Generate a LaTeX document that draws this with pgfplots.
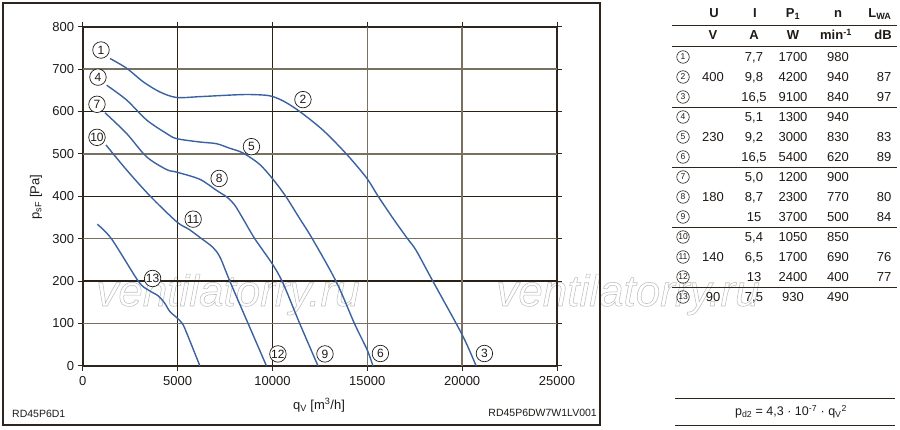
\documentclass[border=0pt]{standalone}
\usepackage{pgfplots}
\pgfplotsset{compat=1.18}
\usepackage{fontspec}
\setmainfont{Liberation Sans}
\definecolor{framec}{HTML}{2E261D}
\definecolor{griddark}{HTML}{2A2015}
\definecolor{gridgray}{HTML}{7A7062}
\definecolor{curvec}{HTML}{3A62A0}
\definecolor{textc}{HTML}{1E1A17}
\definecolor{wmark}{HTML}{BEBEBE}
\newcommand\outlinetext[1]{\special{pdf:literal direct 1 Tr 0.55 w}#1\special{pdf:literal direct 0 Tr}}
\tikzset{
  lab/.style={circle, draw=textc, line width=0.7pt, fill=white, minimum size=16.5pt, inner sep=0pt, text=textc, font=\fontsize{12}{12}\selectfont},
  tcirc/.style={circle, draw=textc, line width=0.6pt, minimum size=12.5pt, inner sep=0pt, text=textc, font=\fontsize{8.5}{8.5}\selectfont},
  tt/.style={anchor=base, text=textc, font=\fontsize{13}{15}\selectfont, inner sep=0pt},
  th/.style={anchor=base, text=textc, font=\fontsize{13}{15}\selectfont\bfseries, inner sep=0pt},
  wm/.style={anchor=base, text=wmark, font=\fontsize{44}{44}\selectfont\itshape, inner sep=0pt},
}
\newcommand\trow[7]{%
  \node[tcirc] at (683,#1) {#2};
  \node[tt] at (713,{#1+4.5}) {#3};
  \node[tt] at (754,{#1+4.5}) {#4};
  \node[tt] at (793,{#1+4.5}) {#5};
  \node[tt] at (838,{#1+4.5}) {#6};
  \node[tt] at (884,{#1+4.5}) {#7};
}
\begin{document}
\begin{tikzpicture}
\path[use as bounding box] (0,0) rectangle (900pt,429pt);
\begin{scope}[x=1pt, y=-1pt, yshift=429pt]
  % watermark (outlined)
  \node[wm] at (228,306) {\outlinetext{ventilatorry.ru}};
  \node[wm] at (628,306) {\outlinetext{ventilatorry.ru}};
\end{scope}

\begin{axis}[
  at={(82.7pt,63.2pt)}, anchor=south west,
  scale only axis, width=474.3pt, height=339.1pt,
  xmin=0, xmax=25000, ymin=0, ymax=800,
  clip=false,
  axis line style={draw=framec, line width=1.7pt},
  xtick={0,5000,10000,25000}, extra x ticks={15000,20000},
  ytick={0,200,400,600,800}, extra y ticks={100,300,500,700},
  xmajorgrids, ymajorgrids,
  major grid style={draw=griddark, line width=1.2pt},
  extra tick style={grid=major, major grid style={draw=gridgray, line width=1.4pt}},
  tick align=outside, major tick length=5pt,
  tick style={draw=framec, line width=1pt},
  scaled ticks=false,
  /pgf/number format/1000 sep={},
  /pgf/number format/assume math mode=true,
  ticklabel style={font=\fontsize{13}{15}\selectfont, text=textc},
  xticklabel style={yshift=-2.5pt},
]
% 1-2-3 (400 V)
\addplot[curvec, line width=1.4pt, smooth, tension=0.5] coordinates {
(1440,725) (2316,702) (3190,670) (4068,646) (4947,633) (6173,635) (7926,639) (8815,640) (9858,637) (10600,624) (11437,600) (12663,556) (13894,500) (14950,444) (15600,398) (16400,345) (17136,299) (17578,272) (18452,200) (19684,100) (20200,55) (20736,0)};
% 4-5-6 (230 V)
\addplot[curvec, line width=1.4pt, smooth, tension=0.5] coordinates {
(1263,662) (2316,627) (3368,580) (4421,548) (4947,536) (6173,528) (7052,524) (7700,514) (8453,502) (9331,475) (10031,440) (10700,400) (11400,350) (12100,300) (13368,198) (14331,99) (15000,37) (15296,0)};
% 7-8-9 (180 V)
\addplot[curvec, line width=1.4pt, smooth, tension=0.5] coordinates {
(1174,597) (2316,548) (3368,493) (4421,463) (4947,457) (6173,440) (7050,414) (7600,398) (8000,380) (8450,347) (9068,300) (10000,240) (10558,195) (11437,100) (12400,0)};
% 10-11-12 (140 V)
\addplot[curvec, line width=1.4pt, smooth, tension=0.5] coordinates {
(1226,521) (2316,462) (3542,401) (4947,340) (5600,322) (6173,303) (6873,279) (7250,255) (7752,200) (8716,100) (9684,0)};
% 13 (90 V)
\addplot[curvec, line width=1.4pt, smooth, tension=0.5] coordinates {
(770,334) (1526,299) (2926,200) (3452,179) (3979,165) (4332,147) (4595,128) (4947,114) (5263,99) (5558,69) (6173,0)};

\node[lab] at (axis cs:963,745) {1};
\node[lab] at (axis cs:805,681) {4};
\node[lab] at (axis cs:753,617) {7};
\node[lab] at (axis cs:753,539) {10};
\node[lab] at (axis cs:11610,628) {2};
\node[lab] at (axis cs:8894,517) {5};
\node[lab] at (axis cs:7190,442) {8};
\node[lab] at (axis cs:5821,346) {11};
\node[lab] at (axis cs:3684,206) {13};
\node[lab] at (axis cs:10290,28) {12};
\node[lab] at (axis cs:12770,28) {9};
\node[lab] at (axis cs:15690,29) {6};
\node[lab] at (axis cs:21173,29) {3};
\end{axis}

\begin{scope}[x=1pt, y=-1pt, yshift=429pt]
  % frame
  \draw[framec, line width=1.5pt] (3,3) rectangle (600,425);
  % axis titles
  \node[anchor=base, text=textc, font=\fontsize{13}{15}\selectfont, inner sep=0pt] at (319,409) {q\textsubscript{V} [m\textsuperscript{3}/h]};
  \node[rotate=90, text=textc, font=\fontsize{13}{15}\selectfont, inner sep=0pt] at (36,197) {p\textsubscript{sF} [Pa]};
  \node[anchor=base west, text=textc, font=\fontsize{10.5}{12}\selectfont, inner sep=0pt] at (12,417) {RD45P6D1};
  \node[anchor=base east, text=textc, font=\fontsize{10.5}{12}\selectfont, inner sep=0pt] at (597,416) {RD45P6DW7W1LV001};
  % table header
  \node[th] at (714,17.5) {U};
  \node[th] at (755,17.5) {I};
  \node[th] at (793,17.5) {P\textsubscript{1}};
  \node[th] at (838,17.5) {n};
  \node[th] at (880,17.5) {L\textsubscript{WA}};
  \node[th] at (713,39.5) {V};
  \node[th] at (754,39.5) {A};
  \node[th] at (793,39.5) {W};
  \node[th] at (836,39.5) {min\textsuperscript{-1}};
  \node[th] at (883,39.5) {dB};
  \foreach \yy in {25,46,107,167,227,287} {
    \draw[framec, line width=0.9pt] (672,\yy) -- (897,\yy);
  }
  \trow{57}{1}{}{7,7}{1700}{980}{}
  \trow{77}{2}{400}{9,8}{4200}{940}{87}
  \trow{97}{3}{}{16,5}{9100}{840}{97}
  \trow{117}{4}{}{5,1}{1300}{940}{}
  \trow{137}{5}{230}{9,2}{3000}{830}{83}
  \trow{157}{6}{}{16,5}{5400}{620}{89}
  \trow{177}{7}{}{5,0}{1200}{900}{}
  \trow{197}{8}{180}{8,7}{2300}{770}{80}
  \trow{217}{9}{}{15}{3700}{500}{84}
  \trow{237}{10}{}{5,4}{1050}{850}{}
  \trow{257}{11}{140}{6,5}{1700}{690}{76}
  \trow{277}{12}{}{13}{2400}{400}{77}
  \trow{297}{13}{90}{7,5}{930}{490}{}
  % formula
  \draw[framec, line width=0.9pt] (675,398) -- (895,398);
  \draw[framec, line width=0.9pt] (675,425) -- (895,425);
  \node[anchor=base, text=textc, font=\fontsize{12.5}{14}\selectfont, inner sep=0pt] at (791,415.5) {p\textsubscript{d2} = 4,3 · 10\textsuperscript{-7} · q\textsubscript{V}\textsuperscript{2}};
\end{scope}
\end{tikzpicture}
\end{document}
